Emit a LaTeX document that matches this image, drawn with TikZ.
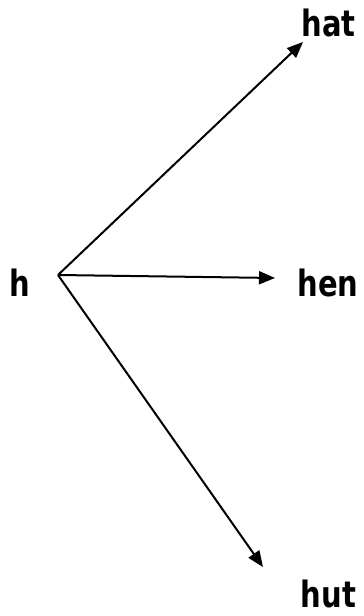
\documentclass[tikz,border=0pt]{standalone}
\usepackage{fontspec}
\usepackage{graphicx}
\setmainfont{DejaVu Sans}
\usetikzlibrary{arrows.meta}
\newcommand{\tallword}[1]{\scalebox{1}[1.25]{#1}}
\begin{document}
\begin{tikzpicture}[x=1pt,y=1pt,
  word/.style={font=\bfseries\fontsize{29}{32}\selectfont, inner sep=0pt, anchor=base},
  link/.style={line width=2pt, -{Triangle[length=16pt,width=13pt]}}]
\useasboundingbox (0,0) rectangle (364,616);
\node[word] (h) at (20,319) {\tallword{h}};
\node[word] (hat) at (328.5,579) {\tallword{hat}};
\node[word] (hen) at (328,319) {\tallword{hen}};
\node[word] (hut) at (328.5,9) {\tallword{hut}};
\coordinate (v) at (58,341);
\coordinate (thHat) at (303,574);
\coordinate (thHen) at (275,338);
\coordinate (thHut) at (263,49);
\draw[link] (v) -- (thHat);
\draw[link] (v) -- (thHen);
\draw[link] (v) -- (thHut);
\end{tikzpicture}
\end{document}
